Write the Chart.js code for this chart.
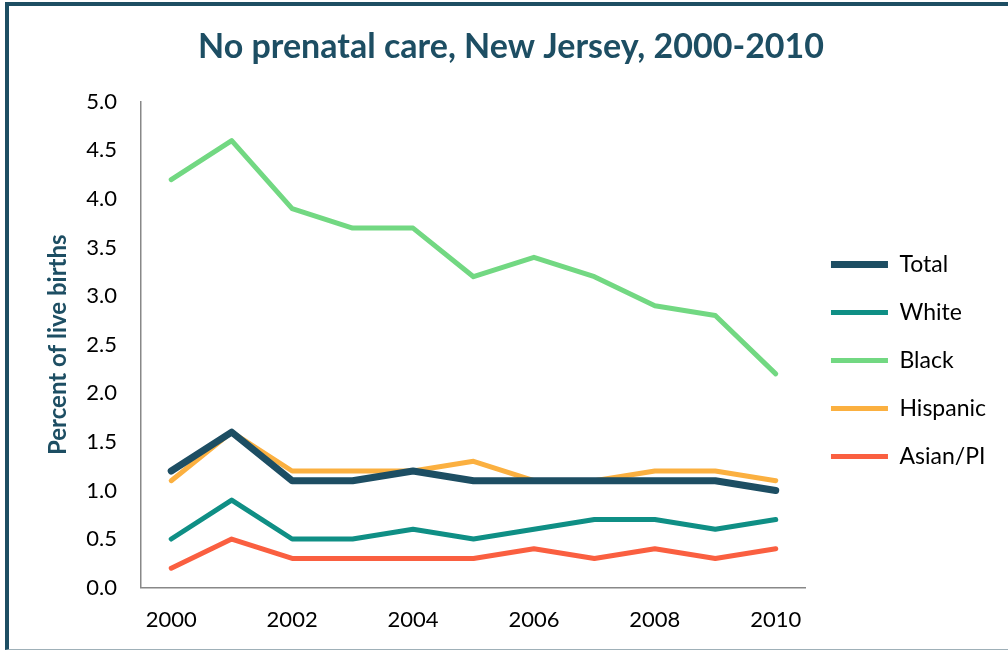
<!DOCTYPE html>
<html>
<head>
<meta charset="utf-8">
<script src="https://cdn.jsdelivr.net/npm/chart.js@4.4.0/dist/chart.umd.min.js"></script>
<style>
  html, body { margin: 0; padding: 0; background: #fff; }
  #wrap { position: relative; width: 1008px; height: 652px; overflow: hidden; }
  #frame { position: absolute; left: 5px; top: 2px; width: 1100px; height: 648px;
           border-left: 4px solid #1d4e63; border-top: 4px solid #1d4e63;
           border-bottom: 1px solid #9fb0b8; box-sizing: border-box; }
  canvas { position: absolute; left: 0; top: 0; }
</style>
</head>
<body>
<div id="wrap">
  <div id="frame"></div>
  <canvas id="myChart" width="1008" height="652"></canvas>
</div>
<script>
var years = ["2000","2001","2002","2003","2004","2005","2006","2007","2008","2009","2010"];
var totalValues    = [1.2, 1.6, 1.1, 1.1, 1.2, 1.1, 1.1, 1.1, 1.1, 1.1, 1.0];
var whiteValues    = [0.5, 0.9, 0.5, 0.5, 0.6, 0.5, 0.6, 0.7, 0.7, 0.6, 0.7];
var blackValues    = [4.2, 4.6, 3.9, 3.7, 3.7, 3.2, 3.4, 3.2, 2.9, 2.8, 2.2];
var hispanicValues = [1.1, 1.6, 1.2, 1.2, 1.2, 1.3, 1.1, 1.1, 1.2, 1.2, 1.1];
var asianValues    = [0.2, 0.5, 0.3, 0.3, 0.3, 0.3, 0.4, 0.3, 0.4, 0.3, 0.4];

var fontFamily = "Lato, 'Open Sans', sans-serif";

function series(label, data, color, width) {
  return {
    label: label,
    data: data,
    borderColor: color,
    backgroundColor: color,
    borderWidth: width,
    borderCapStyle: "round",
    borderJoinStyle: "round",
    pointRadius: 0,
    pointHoverRadius: 0,
    tension: 0,
    fill: false
  };
}

new Chart("myChart", {
  type: "line",
  data: {
    labels: years,
    datasets: [
      series("Total", totalValues, "#1d4e63", 7),
      series("White", whiteValues, "#0f8f85", 5),
      series("Black", blackValues, "#72d882", 5),
      series("Hispanic", hispanicValues, "#fbb040", 5),
      series("Asian/PI", asianValues, "#fa5f40", 5)
    ]
  },
  options: {
    responsive: false,
    animation: false,
    layout: { padding: { left: 26, right: 12, top: 17, bottom: 0 } },
    plugins: {
      title: {
        display: true,
        text: "No prenatal care, New Jersey, 2000-2010",
        color: "#1d4e63",
        font: { family: fontFamily, size: 34, weight: "bold" },
        padding: { top: 10, bottom: 34 }
      },
      legend: {
        display: true,
        position: "right",
        title: {
          display: true,
          text: " ",
          font: { size: 10 },
          padding: { top: 40, bottom: 0 }
        },
        labels: {
          usePointStyle: true,
          pointStyle: "line",
          pointStyleWidth: 57,
          boxHeight: 6,
          padding: 25,
          color: "#000",
          font: { family: fontFamily, size: 23 }
        }
      },
      tooltip: { enabled: false }
    },
    scales: {
      x: {
        offset: true,
        grid: { display: false, drawTicks: false },
        border: { color: "#888", width: 1.5 },
        ticks: {
          autoSkip: false,
          maxRotation: 0,
          padding: 19,
          color: "#000",
          font: { family: fontFamily, size: 22 },
          callback: function (v, i) { return i % 2 === 0 ? years[i] : ""; }
        }
      },
      y: {
        min: 0,
        max: 5,
        afterFit: function (scale) { scale.width = 115; },
        grid: { display: false, drawTicks: false },
        border: { color: "#888", width: 1.5 },
        title: {
          display: true,
          text: "Percent of live births",
          color: "#1d4e63",
          font: { family: fontFamily, size: 24, weight: "bold" },
          padding: { top: 18, bottom: 0 }
        },
        ticks: {
          stepSize: 0.5,
          padding: 24,
          color: "#000",
          font: { family: fontFamily, size: 22 },
          callback: function (v) { return v.toFixed(1); }
        }
      }
    }
  }
});
</script>
</body>
</html>
